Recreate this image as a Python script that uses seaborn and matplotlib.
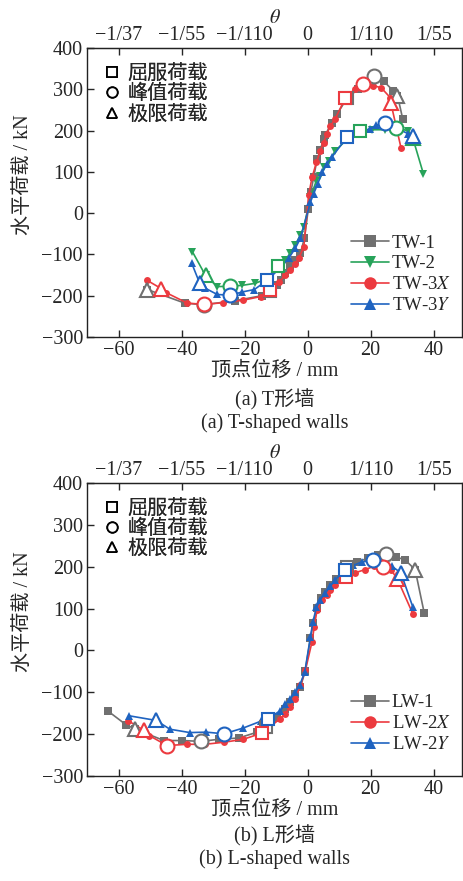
"""
Load-displacement skeleton curves of T- and L-shaped walls
"""
import numpy as np
import pandas as pd
import matplotlib
matplotlib.use('Agg')
import matplotlib.pyplot as plt
from matplotlib.lines import Line2D
import seaborn as sns

# ---- data: (a) T-shaped walls ----
tw1_x = [-50.9, -39.0, -33.0, -23.0, -14.5, -12.0, -9.7, -8.6, -7.1, -5.5, -3.9, -2.3, -1.0, 0.2, 1.0,
         1.9, 3.0, 4.0, 5.1, 5.6, 7.7, 9.3, 12.5, 16.0, 18.5, 20.9, 24.1, 27.2, 28.3, 28.8, 30.2]
tw1_y = [-185, -218, -222, -212, -200, -188, -173, -161, -145, -129, -113, -97, -60, 10, 50,
         87, 130, 153, 180, 190, 219, 239, 279, 300, 318, 331, 320, 296, 283, 275, 227]

tw2_x = [-36.6, -32.4, -28.7, -24.5, -20.8, -16.6, -13.1, -9.5, -7.1, -5.5, -3.9, -2.3, -1.2, 0.9,
         2.8, 4.0, 5.1, 6.7, 8.8, 12.5, 16.5, 20.4, 24.6, 28.1, 32.0, 33.4, 36.7]
tw2_y = [-93, -151, -178, -177, -175, -170, -159, -129, -113, -97, -77, -53, -33, 39,
         79, 91, 111, 127, 151, 179, 200, 202, 202, 207, 199, 181, 96]

tw3x_x = [-50.9, -46.4, -44.8, -38.2, -32.9, -26.8, -20.5, -14.9, -11.8, -9.2, -7.1, -5.5, -3.9, -2.8,
          -1.2, 0.3, 1.4, 2.8, 4.0, 5.1, 6.0, 7.2, 8.8, 12.0, 15.1, 17.6, 20.7, 23.3, 26.2, 26.4, 29.6]
tw3x_y = [-163, -183, -193, -218, -221, -217, -211, -202, -185, -168, -151, -137, -123, -109,
          -81, 43, 87, 123, 151, 171, 191, 211, 229, 280, 301, 312, 309, 304, 280, 267, 159]

tw3y_x = [-36.8, -34.3, -32.7, -28.7, -24.5, -20.8, -16.9, -12.9, -8.6, -6.0, -3.9, -2.3, 0.9, 1.9,
          3.2, 4.6, 6.1, 7.7, 12.5, 19.9, 21.8, 24.6, 32.0, 33.4]
tw3y_y = [-121, -169, -181, -197, -199, -191, -185, -163, -132, -109, -85, -61, 27, 47,
          71, 99, 119, 136, 184, 205, 213, 219, 192, 187]

# characteristic points (negative, positive): yield / peak / ultimate
tw1_yield = ([-12.0, 12.5], [-188, 279])
tw1_peak = ([-33.0, 20.9], [-222, 331])
tw1_ult = ([-50.9, 28.3], [-185, 283])
tw2_yield = ([-9.5, 16.5], [-129, 200])
tw2_peak = ([-24.5, 28.1], [-177, 207])
tw2_ult = ([-32.4, 33.4], [-151, 181])
tw3x_yield = ([-11.8, 12.0], [-185, 280])
tw3x_peak = ([-32.9, 17.6], [-221, 312])
tw3x_ult = ([-46.4, 26.4], [-183, 267])
tw3y_yield = ([-12.9, 12.5], [-163, 184])
tw3y_peak = ([-24.5, 24.6], [-199, 219])
tw3y_ult = ([-34.3, 33.4], [-169, 187])

# ---- data: (b) L-shaped walls ----
lw1_x = [-63.3, -57.7, -54.9, -45.6, -39.8, -33.8, -28.2, -21.9, -16.0, -13.3, -9.6, -7.1, -5.5, -3.9,
         -2.3, -0.8, 0.9, 1.8, 2.9, 4.2, 5.6, 7.2, 9.0, 12.5, 15.8, 19.0, 22.2, 24.9, 28.1, 30.9, 34.1, 37.0]
lw1_y = [-145, -177, -187, -215, -215, -217, -212, -209, -195, -183, -161, -140, -122, -105,
         -87, -50, 30, 66, 101, 124, 140, 155, 170, 199, 211, 220, 227, 229, 223, 216, 193, 89]

lw2x_x = [-56.9, -51.9, -50.3, -44.6, -38.3, -32.6, -26.5, -20.4, -14.4, -8.9, -7.1, -5.5, -3.9, -2.3,
          -0.7, 1.4, 2.1, 3.0, 4.6, 6.0, 7.2, 8.8, 12.3, 14.9, 18.3, 21.1, 23.9, 26.4, 28.5, 33.4]
lw2x_y = [-168, -191, -203, -227, -224, -224, -219, -212, -197, -164, -151, -135, -115, -83,
          -47, 21, 57, 97, 121, 133, 145, 157, 175, 185, 193, 201, 199, 193, 170, 87]

lw2y_x = [-56.6, -48.1, -43.7, -37.4, -32.1, -26.5, -20.4, -14.9, -12.7, -8.9, -7.1, -5.5, -3.9, -2.5,
          -0.9, 0.9, 1.7, 2.8, 4.0, 5.6, 7.2, 8.8, 11.7, 14.5, 17.2, 20.6, 23.6, 26.7, 29.6, 33.4]
lw2y_y = [-156, -167, -188, -196, -195, -199, -185, -169, -163, -145, -129, -115, -100, -83,
          -51, 33, 69, 103, 121, 137, 153, 169, 191, 203, 211, 215, 213, 201, 185, 103]

lw1_yield = ([-13.3, 12.5], [-183, 199])
lw1_peak = ([-33.8, 24.9], [-217, 229])
lw1_ult = ([-54.9, 34.1], [-187, 193])
lw2x_yield = ([-14.4, 12.3], [-197, 175])
lw2x_peak = ([-44.6, 23.9], [-227, 199])
lw2x_ult = ([-51.9, 28.5], [-191, 170])
lw2y_yield = ([-12.7, 11.7], [-163, 191])
lw2y_peak = ([-26.5, 20.6], [-199, 215])
lw2y_ult = ([-48.1, 29.6], [-167, 185])

disp_ticks = [-60, -40, -20, 0, 20, 40]
theta_labels = ['\u22121/37', '\u22121/55', '\u22121/110', '0', '1/110', '1/55']
load_ticks = [-300, -200, -100, 0, 100, 200, 300, 400]
key_labels = ['屈服荷载', '峰值荷载', '极限荷载']

GRAY = '#707070'
GREEN = '#27a35a'
RED = '#ec3a3f'
BLUE = '#1f63c0'

sns.set_style('ticks')
plt.rcParams['font.family'] = ['Liberation Serif', 'Noto Sans CJK SC']
plt.rcParams['mathtext.fontset'] = 'stix'
plt.rcParams['xtick.direction'] = 'in'
plt.rcParams['ytick.direction'] = 'in'
FS = 14.5


def draw_panel(ax, series, draw_order, legend_loc):
    """series: list of (label, x, y, color, marker, yield, peak, ult)"""
    handles = {}
    for i in draw_order:
        label, x, y, color, marker, yld, pk, ult = series[i]
        df = pd.DataFrame({'d': x, 'f': y})
        sns.lineplot(data=df, x='d', y='f', sort=False, estimator=None, ax=ax, color=color,
                     marker=marker, markersize=5.5 if marker != 'o' else 5, markeredgewidth=0,
                     linewidth=1.2, zorder=2 + i)
        for pts, m in ((yld, 's'), (pk, 'o'), (ult, '^')):
            ax.plot(pts[0], pts[1], linestyle='none', marker=m, markersize=10 if m != 's' else 9,
                    markerfacecolor='white', markeredgecolor=color, markeredgewidth=1.5,
                    zorder=10 + i)
        handles[i] = Line2D([], [], color=color, marker=marker, markersize=9, linewidth=1.2,
                            markeredgewidth=0)
    leg1 = ax.legend([handles[i] for i in range(len(series))], [s[0] for s in series],
                     loc='lower right', bbox_to_anchor=legend_loc, frameon=False, fontsize=13.5,
                     handlelength=2.0, handletextpad=0.15, labelspacing=0.2, borderaxespad=0.2)
    ax.add_artist(leg1)
    key_handles = [Line2D([], [], linestyle='none', marker=m, markersize=7.5, markerfacecolor='white',
                          markeredgecolor='black', markeredgewidth=1.3) for m in ('s', 'o', '^')]
    leg2 = ax.legend(key_handles, key_labels, loc='upper left', bbox_to_anchor=(0.0, 1.0),
                     frameon=False, fontsize=FS, handlelength=0.8, handletextpad=0.35,
                     labelspacing=0.05, borderaxespad=0.45)
    ax.add_artist(leg2)

    ax.set_xlim(-70, 49)
    ax.set_ylim(-300, 400)
    ax.set_xticks(disp_ticks)
    ax.set_yticks(load_ticks)
    ax.tick_params(labelsize=FS, length=5, width=1, top=False, right=False, pad=3)
    ax.set_xlabel('顶点位移 / mm', fontsize=FS, labelpad=1)
    ax.set_ylabel('水平荷载 / kN', fontsize=FS)
    ax.yaxis.set_label_coords(-0.145, 0.56)
    for sp in ax.spines.values():
        sp.set_linewidth(1.0)
        sp.set_color('#222222')
    sec = ax.secondary_xaxis('top')
    sec.set_xticks(disp_ticks)
    sec.set_xticklabels(theta_labels)
    sec.tick_params(labelsize=FS, length=5, width=1, direction='in', pad=2)
    sec.set_xlabel(r'$\theta$', fontsize=FS, labelpad=2)


fig = plt.figure(figsize=(4.63, 8.81), dpi=100)
ax1 = fig.add_axes([0.188, 0.6175, 0.81, 0.328])
ax2 = fig.add_axes([0.188, 0.119, 0.81, 0.333])

tw_series = [
    ('TW-1', tw1_x, tw1_y, GRAY, 's', tw1_yield, tw1_peak, tw1_ult),
    ('TW-2', tw2_x, tw2_y, GREEN, 'v', tw2_yield, tw2_peak, tw2_ult),
    ('TW-3$X$', tw3x_x, tw3x_y, RED, 'o', tw3x_yield, tw3x_peak, tw3x_ult),
    ('TW-3$Y$', tw3y_x, tw3y_y, BLUE, '^', tw3y_yield, tw3y_peak, tw3y_ult),
]
lw_series = [
    ('LW-1', lw1_x, lw1_y, GRAY, 's', lw1_yield, lw1_peak, lw1_ult),
    ('LW-2$X$', lw2x_x, lw2x_y, RED, 'o', lw2x_yield, lw2x_peak, lw2x_ult),
    ('LW-2$Y$', lw2y_x, lw2y_y, BLUE, '^', lw2y_yield, lw2y_peak, lw2y_ult),
]
draw_panel(ax1, tw_series, [0, 3, 1, 2], (1.0, 0.04))
draw_panel(ax2, lw_series, [0, 1, 2], (1.0, 0.04))

cx = 0.188 + 0.81 / 2
fig.text(cx, 1 - 400 / 881, '(a) T形墙', ha='center', va='center', fontsize=FS)
fig.text(cx, 1 - 423 / 881, '(a) T-shaped walls', ha='center', va='center', fontsize=FS)
fig.text(cx, 1 - 836 / 881, '(b) L形墙', ha='center', va='center', fontsize=FS)
fig.text(cx, 1 - 859 / 881, '(b) L-shaped walls', ha='center', va='center', fontsize=FS)

fig.savefig('out.png', dpi=100)
